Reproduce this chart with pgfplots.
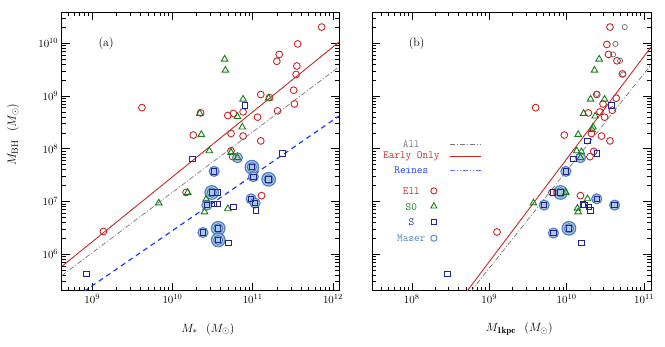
\documentclass[border=0pt]{standalone}
\usepackage{fontspec}
\usepackage{pgfplots}
\pgfplotsset{compat=1.18}
\usetikzlibrary{shapes.geometric}

\definecolor{ellred}{RGB}{200,40,40}
\definecolor{sogreen}{RGB}{25,125,25}
\definecolor{snavy}{RGB}{35,35,150}
\definecolor{maser}{RGB}{80,130,190}
\definecolor{allgray}{RGB}{120,120,120}
\definecolor{reinesblue}{RGB}{30,60,255}

\pgfplotsset{
  mypanel/.style={
    scale only axis,
    ymin=2.04e5, ymax=3.89e10, height=278.2bp,
    tick align=inside, major tick length=8bp, minor tick length=4bp,
    axis line style={line width=0.9bp},
    every tick/.style={black, line width=0.6bp},
    tick label style={font=\fontsize{11}{13}\selectfont},
    label style={font=\fontsize{13}{15}\selectfont},
    xlabel style={at={(axis description cs:0.527,-0.139)}, anchor=center},
  },
  ell/.style={only marks, mark=o, mark size=3.4bp, ellred, mark options={line width=0.9bp}},
  sz/.style={only marks, mark=triangle, mark size=3.8bp, sogreen, mark options={line width=0.9bp}},
  sp/.style={only marks, mark=square, mark size=2.7bp, snavy, mark options={line width=0.9bp}},
  msbig/.style={only marks, mark=*, mark size=6.8bp, mark options={draw=maser, fill=maser!45, line width=1.2bp}},
  msring/.style={only marks, mark=o, mark size=4.6bp, mark options={draw=maser, line width=1bp}},
  ms/.style={only marks, mark=*, mark size=5bp, mark options={draw=maser, fill=maser!45, line width=1.1bp}},
}
\newcommand\legfont{\fontsize{11}{13}\ttfamily}

\begin{document}
\begin{tikzpicture}
\useasboundingbox (0,0) rectangle (665bp,347bp);

% ---- panel (a)
\begin{loglogaxis}[mypanel, at={(61.7bp,56.5bp)}, anchor=south west, width=277.3bp,
  xmin=4.17e8, xmax=1.19e12,
  xlabel={$M_*\ \ (M_\odot)$},
  ylabel={$M_{\rm BH}\ \ (M_\odot)$},
  ylabel style={at={(axis description cs:-0.176,0.56)}, anchor=center},
]
\addplot[msbig] coordinates {(9.77e10,4.47e7) (1.58e11,2.63e7) (3.09e10,1.48e7) (3.72e10,3.09e6) (3.72e10,1.86e6)};
\addplot[msring] coordinates {(9.77e10,4.47e7) (1.58e11,2.63e7) (3.09e10,1.48e7) (3.72e10,3.09e6) (3.72e10,1.86e6)};
\addplot[ms] coordinates {(3.31e10,3.72e7) (1.02e11,2.95e7) (2.69e10,8.51e6) (9.55e10,1.12e7) (1.07e11,9.33e6) (2.40e10,2.57e6) (6.46e10,6.76e7)};

\addplot[ellred, line width=0.9bp] coordinates {(4.17e8,5.82e5) (1.19e12,1.06e10)};
\addplot[allgray, line width=0.7bp, dash pattern=on 5bp off 2bp on 1bp off 2bp] coordinates {(4.17e8,3.89e5) (1.19e12,3.58e9)};
\addplot[reinesblue, line width=1.2bp, dash pattern=on 5bp off 4bp] coordinates {(4.17e8,1.0e5) (1.19e12,4.17e8)};

\addplot[ell] coordinates {
 (7.24e11,2.04e10) (3.63e11,9.77e9) (2.14e11,6.17e9) (2.00e11,4.57e9) (3.55e11,3.72e9)
 (3.47e11,2.57e9) (3.24e11,1.29e9) (3.31e11,7.08e8) (2.04e11,5.25e8) (1.26e11,1.07e9)
 (1.62e11,9.33e8) (1.15e11,3.98e8) (7.59e10,5.01e8) (5.75e10,4.68e8) (4.90e10,4.27e8)
 (5.37e10,1.95e8) (7.59e10,1.74e8) (1.26e11,1.41e8) (5.37e10,9.12e7) (5.62e10,7.08e7)
 (2.24e10,4.79e8) (1.82e10,1.82e8) (4.17e9,6.03e8) (1.38e9,2.69e6) (1.48e10,1.48e7)
 (1.29e11,1.29e7)};
\addplot[sz] coordinates {
 (4.47e10,5.01e9) (4.57e10,3.09e9) (7.59e10,8.71e8) (6.46e10,4.07e8) (7.41e10,2.57e8)
 (2.19e10,4.68e8) (2.29e10,1.86e8) (2.88e10,9.12e7) (5.37e10,8.51e7) (6.46e10,6.76e7)
 (1.58e11,9.12e8) (1.55e10,1.48e7) (6.76e9,9.33e6) (2.63e10,1.10e7) (2.51e10,6.31e6)
 (4.90e10,7.24e6)};
\addplot[sp] coordinates {
 (7.94e10,6.61e8) (1.78e10,6.46e7) (2.34e11,8.13e7) (8.51e8,4.17e5) (3.31e10,3.72e7)
 (9.77e10,4.47e7) (1.02e11,2.95e7) (1.58e11,2.63e7) (3.09e10,1.48e7) (3.63e10,1.48e7)
 (2.69e10,8.51e6) (3.31e10,8.91e6) (3.63e10,8.91e6) (5.75e10,7.76e6) (9.55e10,1.12e7)
 (1.07e11,9.33e6) (1.10e11,6.76e6) (2.40e10,2.57e6) (3.72e10,3.09e6) (3.72e10,1.86e6)
 (5.01e10,1.62e6)};

\node[font=\fontsize{12}{14}\selectfont] at (axis description cs:0.16,0.889) {(a)};
\end{loglogaxis}

% ---- panel (b)
\begin{loglogaxis}[mypanel, at={(372.3bp,56.5bp)}, anchor=south west, width=278.7bp,
  xmin=3.09e7, xmax=1.23e11,
  yticklabels={},
  xlabel={$M_{\mathbf{1kpc}}\ \ (M_\odot)$},
]
\addplot[msbig] coordinates {(8.32e9,1.48e7) (1.07e10,3.09e6)};
\addplot[msring] coordinates {(8.32e9,1.48e7) (1.07e10,3.09e6)};
\addplot[ms] coordinates {(9.77e9,3.72e7) (5.13e9,8.51e6) (2.45e10,1.12e7) (4.17e10,8.51e6) (6.76e9,2.51e6) (1.51e10,6.76e7)};

\addplot[ellred, line width=0.9bp] coordinates {(3.98e8,1.19e5) (1.23e11,8.5e9)};
\addplot[allgray, line width=0.7bp, dash pattern=on 5bp off 2bp on 1bp off 2bp] coordinates {(3.98e8,9.8e4) (1.23e11,3.94e9)};

\addplot[only marks, mark=o, mark size=2.6bp, allgray, mark options={line width=0.8bp}] coordinates {
 (5.62e10,2.04e10) (4.27e10,9.77e9) (3.98e10,6.17e9) (4.90e10,4.68e9) (5.37e10,2.57e9)
 (2.45e10,1.10e9)};
\addplot[ell] coordinates {
 (3.63e10,2.04e10) (3.31e10,9.55e9) (3.47e10,6.17e9) (4.47e10,4.68e9) (5.25e10,2.63e9)
 (4.37e10,9.12e8) (2.95e10,7.08e8) (2.45e10,1.07e9) (2.69e10,5.01e8) (3.09e10,3.98e8)
 (3.89e10,5.37e8) (1.91e10,4.79e8) (2.09e10,1.95e8) (2.82e10,1.74e8) (3.63e10,1.41e8)
 (2.24e10,8.91e7) (2.00e10,7.08e7) (3.98e9,6.03e8) (9.33e9,1.82e8) (1.51e10,1.29e7)
 (1.26e9,2.63e6) (6.46e9,1.48e7)};
\addplot[sz] coordinates {
 (2.63e10,5.01e9) (2.29e10,3.09e9) (3.09e10,8.71e8) (2.04e10,8.71e8) (2.34e10,4.17e8)
 (1.66e10,4.68e8) (2.19e10,2.57e8) (2.14e10,2.29e8) (1.41e10,1.86e8) (1.35e10,9.12e7)
 (1.55e10,8.71e7) (1.51e10,6.76e7) (3.72e9,9.33e6) (9.77e9,1.48e7) (1.86e10,1.12e7)
 (1.38e10,7.41e6) (1.41e10,6.31e6)};
\addplot[sp] coordinates {
 (3.80e10,6.61e8) (1.86e10,1.41e8) (2.45e10,8.13e7) (1.23e10,6.46e7) (9.77e9,3.72e7)
 (6.61e9,1.48e7) (8.32e9,1.48e7) (5.13e9,8.51e6) (1.62e10,8.71e6) (1.70e10,8.51e6)
 (1.95e10,7.76e6) (2.04e10,6.76e6) (2.45e10,1.12e7) (4.17e10,8.51e6) (6.76e9,2.51e6)
 (1.07e10,3.09e6) (1.55e10,1.62e6) (2.88e8,4.17e5)};

\node[font=\fontsize{12}{14}\selectfont] at (axis description cs:0.159,0.889) {(b)};

% legend
\node[text=allgray, font=\legfont] at (axis description cs:0.140,0.527) {All};
\node[text=ellred, font=\legfont] at (axis description cs:0.140,0.483) {Early Only};
\node[text=reinesblue, font=\legfont] at (axis description cs:0.140,0.433) {Reines};
\draw[allgray, line width=0.7bp, dash pattern=on 5bp off 2bp on 1bp off 2bp] (axis description cs:0.279,0.527) -- (axis description cs:0.390,0.527);
\draw[ellred, line width=0.9bp] (axis description cs:0.279,0.483) -- (axis description cs:0.390,0.483);
\draw[reinesblue!70, line width=0.9bp, dash pattern=on 5bp off 2bp on 1bp off 2bp on 1bp off 2bp] (axis description cs:0.279,0.433) -- (axis description cs:0.390,0.433);

\node[text=ellred, font=\legfont] at (axis description cs:0.140,0.358) {Ell};
\node[text=sogreen, font=\legfont] at (axis description cs:0.140,0.301) {S0};
\node[text=snavy, font=\legfont] at (axis description cs:0.140,0.245) {S};
\node[text=maser, font=\legfont] at (axis description cs:0.140,0.188) {Maser};
\node[draw=ellred, circle, inner sep=0pt, minimum size=6.2bp, line width=0.9bp] at (axis description cs:0.221,0.358) {};
\node[draw=sogreen, regular polygon, regular polygon sides=3, inner sep=0pt, minimum size=7bp, line width=0.9bp] at (axis description cs:0.221,0.303) {};
\node[draw=snavy, rectangle, inner sep=0pt, minimum size=5bp, line width=0.9bp] at (axis description cs:0.221,0.245) {};
\node[draw=maser, circle, inner sep=0pt, minimum size=6.2bp, line width=0.9bp] at (axis description cs:0.221,0.188) {};
\end{loglogaxis}
\end{tikzpicture}
\end{document}
